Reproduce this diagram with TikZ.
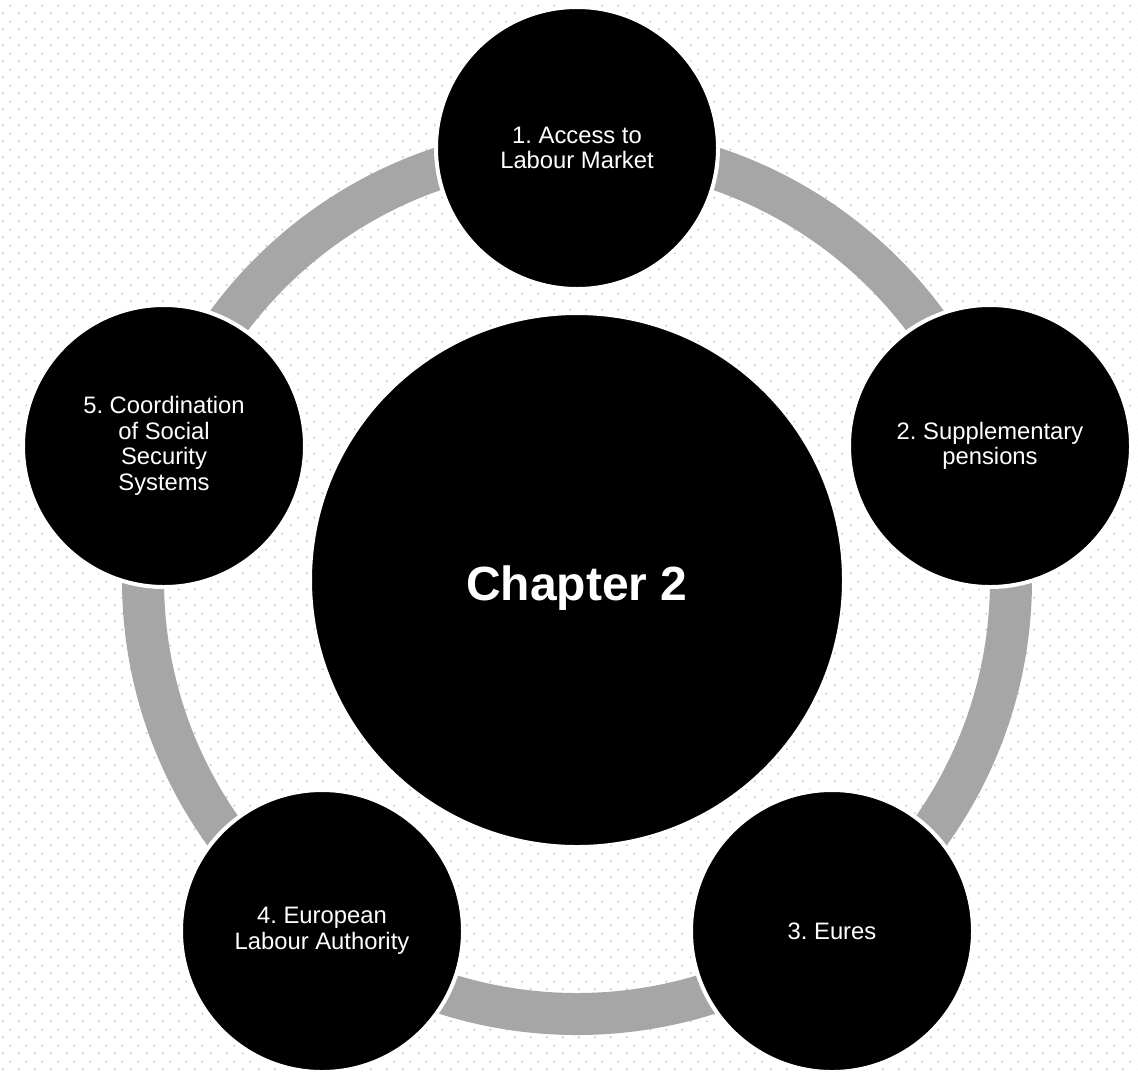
\documentclass[tikz,border=0pt]{standalone}
\usepackage{fontspec}
\setmainfont{Liberation Sans}
\usetikzlibrary{patterns}
\frenchspacing
\pgfdeclarepatternformonly{bgdots}{\pgfqpoint{0pt}{0pt}}{\pgfqpoint{8pt}{8pt}}{\pgfqpoint{8pt}{8pt}}{%
  \pgfpathcircle{\pgfqpoint{2pt}{2pt}}{0.55pt}%
  \pgfpathcircle{\pgfqpoint{6pt}{6pt}}{0.55pt}%
  \pgfusepath{fill}}
\definecolor{ringgray}{HTML}{A6A6A6}
\definecolor{dotgray}{HTML}{C4C4C4}
\tikzset{
  topic/.style={circle, fill=black, draw=white, line width=2pt, minimum size=141pt,
    inner sep=0pt, text=white, align=center,
    font=\fontsize{11.9pt}{12.8pt}\selectfont},
  hub/.style={circle, fill=black, draw=white, line width=1pt, minimum size=266pt,
    inner sep=0pt},
  hubtext/.style={label={[text=white, font=\fontsize{24pt}{28pt}\selectfont\bfseries,
    yshift=-4pt]center:#1}},
  ringline/.style={draw=ringgray, line width=21pt}
}
\begin{document}
\begin{tikzpicture}[x=0.5pt,y=-0.5pt]
\useasboundingbox (0,0) rectangle (1138,1072);
\fill[white] (0,0) rectangle (1138,1072);
\fill[pattern=bgdots, pattern color=dotgray] (0,0) rectangle (1138,1072);
\coordinate (ctr) at (577,580);
\draw[ringline] (ctr) circle[radius=217pt];
\node[hub, hubtext={Chapter 2}] (hub) at (577,580) {};
\node[topic] (t1) at (577,148) {1. Access to\\Labour Market};
\node[topic] (t2) at (990,446) {2. Supplementary\\pensions};
\node[topic] (t3) at (832,931) {3. Eures};
\node[topic] (t4) at (322,931) {4. European\\Labour Authority};
\node[topic] (t5) at (164,446) {5. Coordination\\of Social\\Security\\Systems};
\end{tikzpicture}
\end{document}
